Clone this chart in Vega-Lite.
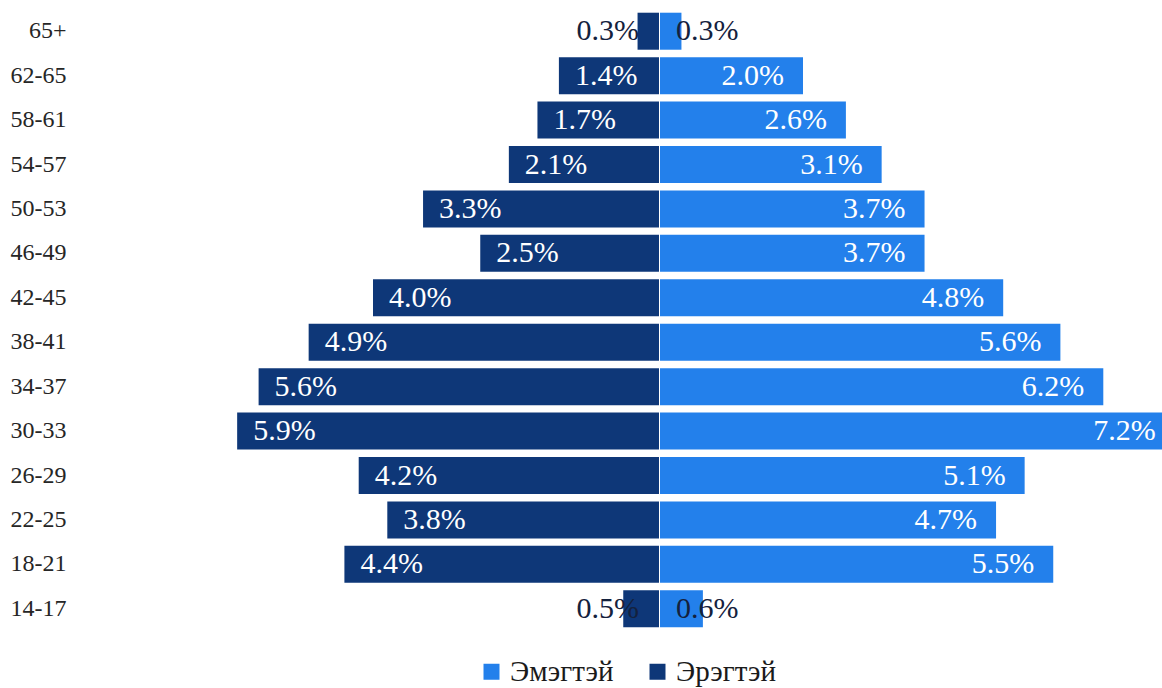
{
  "$schema": "https://vega.github.io/schema/vega-lite/v6.json",
  "padding": {"left": 10, "top": 9, "right": 0, "bottom": 0},
  "background": "white",
  "config": {"view": {"stroke": null}, "font": "Liberation Serif"},
  "data": {"values": [
    {"age": "65+", "sex": "Эрэгтэй", "pct": 0.003},
    {"age": "62-65", "sex": "Эрэгтэй", "pct": 0.014},
    {"age": "58-61", "sex": "Эрэгтэй", "pct": 0.017},
    {"age": "54-57", "sex": "Эрэгтэй", "pct": 0.021},
    {"age": "50-53", "sex": "Эрэгтэй", "pct": 0.033},
    {"age": "46-49", "sex": "Эрэгтэй", "pct": 0.025},
    {"age": "42-45", "sex": "Эрэгтэй", "pct": 0.040},
    {"age": "38-41", "sex": "Эрэгтэй", "pct": 0.049},
    {"age": "34-37", "sex": "Эрэгтэй", "pct": 0.056},
    {"age": "30-33", "sex": "Эрэгтэй", "pct": 0.059},
    {"age": "26-29", "sex": "Эрэгтэй", "pct": 0.042},
    {"age": "22-25", "sex": "Эрэгтэй", "pct": 0.038},
    {"age": "18-21", "sex": "Эрэгтэй", "pct": 0.044},
    {"age": "14-17", "sex": "Эрэгтэй", "pct": 0.005},
    {"age": "65+", "sex": "Эмэгтэй", "pct": 0.003},
    {"age": "62-65", "sex": "Эмэгтэй", "pct": 0.020},
    {"age": "58-61", "sex": "Эмэгтэй", "pct": 0.026},
    {"age": "54-57", "sex": "Эмэгтэй", "pct": 0.031},
    {"age": "50-53", "sex": "Эмэгтэй", "pct": 0.037},
    {"age": "46-49", "sex": "Эмэгтэй", "pct": 0.037},
    {"age": "42-45", "sex": "Эмэгтэй", "pct": 0.048},
    {"age": "38-41", "sex": "Эмэгтэй", "pct": 0.056},
    {"age": "34-37", "sex": "Эмэгтэй", "pct": 0.062},
    {"age": "30-33", "sex": "Эмэгтэй", "pct": 0.072},
    {"age": "26-29", "sex": "Эмэгтэй", "pct": 0.051},
    {"age": "22-25", "sex": "Эмэгтэй", "pct": 0.047},
    {"age": "18-21", "sex": "Эмэгтэй", "pct": 0.055},
    {"age": "14-17", "sex": "Эмэгтэй", "pct": 0.006}
  ]},
  "spacing": 0,
  "hconcat": [
    {
      "width": 580,
      "height": 622,
      "transform": [{"filter": "datum.sex === 'Эрэгтэй'"}],
      "encoding": {
        "y": {
          "field": "age", "type": "nominal",
          "sort": ["65+", "62-65", "58-61", "54-57", "50-53", "46-49", "42-45", "38-41", "34-37", "30-33", "26-29", "22-25", "18-21", "14-17"],
          "scale": {"paddingInner": 0.167, "paddingOuter": 0.0835},
          "axis": {"title": null, "domain": false, "ticks": false, "labelFont": "Liberation Serif", "labelFontSize": 24, "labelColor": "#262626", "labelPadding": 13, "labelAlign": "right"}
        },
        "x": {"field": "pct", "type": "quantitative", "scale": {"domain": [0, 0.08112], "reverse": true, "nice": false, "zero": true}, "axis": null}
      },
      "layer": [
        {
          "mark": {"type": "bar", "clip": true},
          "encoding": {
            "color": {
              "field": "sex", "type": "nominal",
              "scale": {"domain": ["Эмэгтэй", "Эрэгтэй"], "range": ["#2380EB", "#0E3778"]},
              "legend": {"orient": "none", "legendX": 398, "legendY": 648, "direction": "horizontal", "title": null, "symbolType": "square", "symbolSize": 256, "symbolStrokeWidth": 0, "labelFontSize": 29, "labelFont": "Liberation Serif", "labelColor": "#1a1a1a", "columnPadding": 29, "labelOffset": 4, "padding": 0}
            }
          }
        },
        {
          "transform": [{"filter": "datum.pct >= 0.01"}],
          "mark": {"type": "text", "align": "left", "baseline": "middle", "dx": 16, "color": "white", "fontSize": 30, "font": "Liberation Serif"},
          "encoding": {"text": {"field": "pct", "type": "quantitative", "format": ".1%"}}
        },
        {
          "transform": [{"filter": "datum.pct < 0.01"}],
          "mark": {"type": "text", "align": "right", "baseline": "middle", "dx": -20, "color": "#14213d", "fontSize": 30, "font": "Liberation Serif"},
          "encoding": {"x": {"datum": 0}, "text": {"field": "pct", "type": "quantitative", "format": ".1%"}}
        }
      ]
    },
    {
      "width": 503,
      "height": 622,
      "transform": [{"filter": "datum.sex === 'Эмэгтэй'"}],
      "encoding": {
        "y": {
          "field": "age", "type": "nominal",
          "sort": ["65+", "62-65", "58-61", "54-57", "50-53", "46-49", "42-45", "38-41", "34-37", "30-33", "26-29", "22-25", "18-21", "14-17"],
          "scale": {"paddingInner": 0.167, "paddingOuter": 0.0835},
          "axis": null
        },
        "x": {"field": "pct", "type": "quantitative", "scale": {"domain": [0, 0.07035], "nice": false, "zero": true}, "axis": null}
      },
      "layer": [
        {
          "mark": {"type": "bar", "clip": true},
          "encoding": {
            "color": {"field": "sex", "type": "nominal"}
          }
        },
        {
          "transform": [{"filter": "datum.pct >= 0.01"}],
          "mark": {"type": "text", "align": "right", "baseline": "middle", "dx": -19, "color": "white", "fontSize": 30, "font": "Liberation Serif"},
          "encoding": {"text": {"field": "pct", "type": "quantitative", "format": ".1%"}}
        },
        {
          "transform": [{"filter": "datum.pct < 0.01"}],
          "mark": {"type": "text", "align": "left", "baseline": "middle", "dx": 16, "color": "#14213d", "fontSize": 30, "font": "Liberation Serif"},
          "encoding": {"x": {"datum": 0}, "text": {"field": "pct", "type": "quantitative", "format": ".1%"}}
        },
        {
          "mark": {"type": "rule", "color": "#D3D8EC", "strokeWidth": 2},
          "encoding": {"x": {"datum": 0}}
        }
      ]
    }
  ],
  "resolve": {"scale": {"color": "shared"}}
}
